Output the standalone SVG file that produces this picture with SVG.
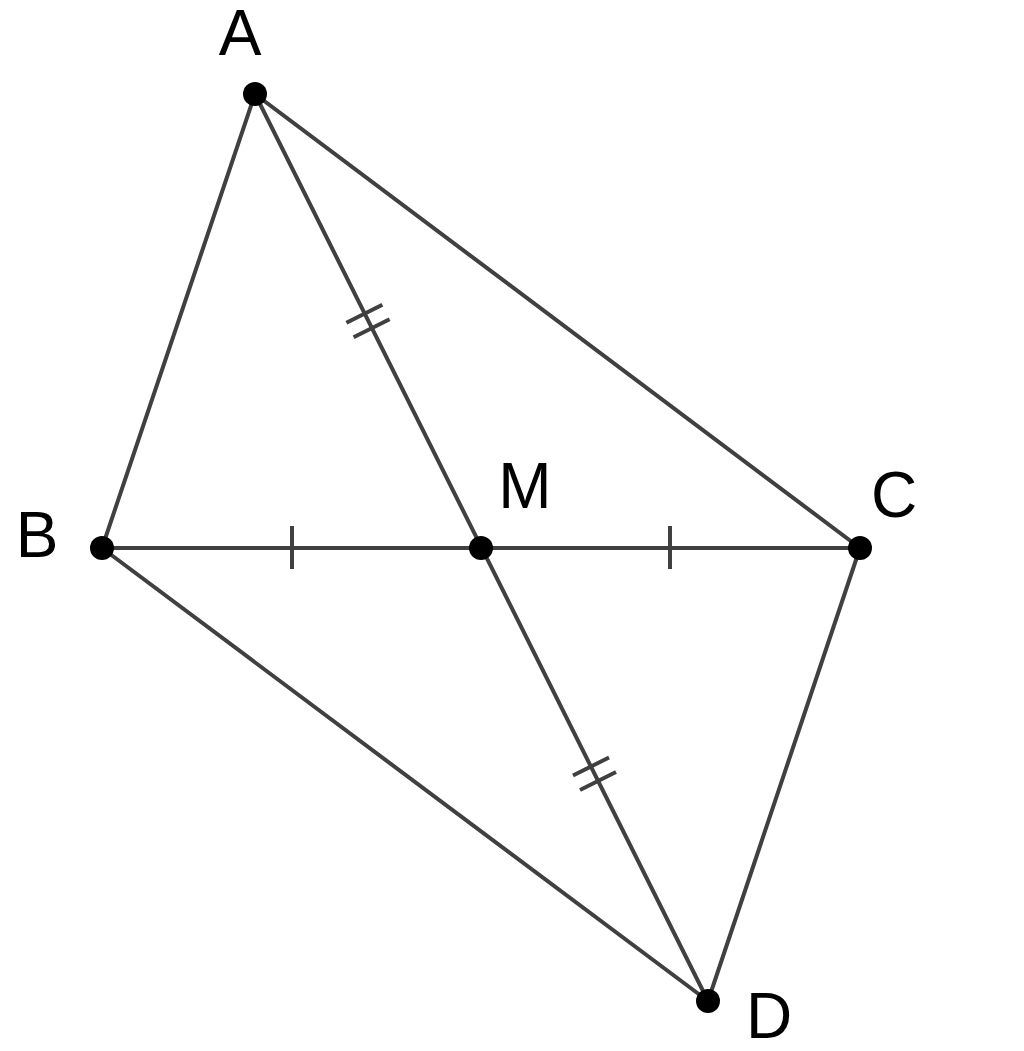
<svg xmlns="http://www.w3.org/2000/svg" width="1024" height="1051" viewBox="0 0 1024 1051">
<style>
.seg{stroke:#404040;stroke-width:4;fill:none;stroke-linecap:round}
.tick{stroke:#404040;stroke-width:4;fill:none}
.pt{fill:#000}
.lbl{font-family:"Liberation Sans",Arial,sans-serif;font-size:64px;fill:#000;text-anchor:middle}
</style>
<rect width="1024" height="1051" fill="#fff"/>
<g id="connectors">
<line class="seg" x1="255" y1="94" x2="102" y2="548"/>
<line class="seg" x1="255" y1="94" x2="860" y2="548"/>
<line class="seg" x1="255" y1="94" x2="708" y2="1001"/>
<line class="seg" x1="102" y1="548" x2="860" y2="548"/>
<line class="seg" x1="102" y1="548" x2="708" y2="1001"/>
<line class="seg" x1="860" y1="548" x2="708" y2="1001"/>
<line class="tick" x1="292" y1="526" x2="292" y2="569"/>
<line class="tick" x1="670" y1="526" x2="670" y2="569"/>
<line class="tick" x1="346.4" y1="322.8" x2="382.4" y2="304.8"/>
<line class="tick" x1="353.6" y1="337.2" x2="389.6" y2="319.2"/>
<line class="tick" x1="573" y1="775.5" x2="609" y2="757.5"/>
<line class="tick" x1="580" y1="790" x2="616" y2="772"/>
</g>
<g id="A"><circle class="pt" cx="255" cy="94" r="12"/><text class="lbl" x="240" y="55">A</text></g>
<g id="B"><circle class="pt" cx="102" cy="548" r="12"/><text class="lbl" x="37" y="557">B</text></g>
<g id="M"><circle class="pt" cx="481" cy="548" r="12"/><text class="lbl" x="525" y="508">M</text></g>
<g id="C"><circle class="pt" cx="860" cy="548" r="12"/><text class="lbl" x="894" y="517">C</text></g>
<g id="D"><circle class="pt" cx="708" cy="1001" r="12"/><text class="lbl" x="769" y="1038">D</text></g>
</svg>
